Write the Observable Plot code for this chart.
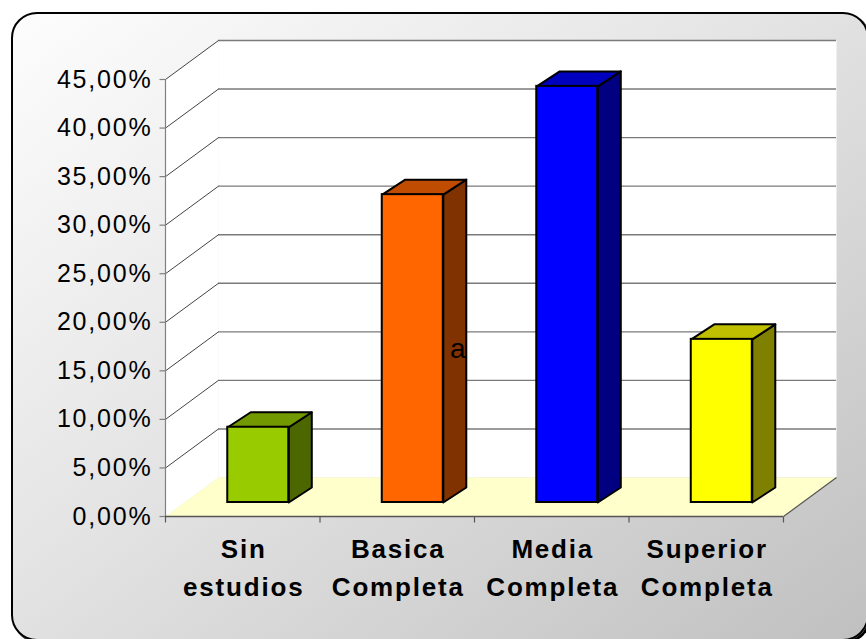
<!DOCTYPE html>
<html>
<head>
<meta charset="utf-8">
<script src="https://cdn.jsdelivr.net/npm/d3@7"></script>
<script src="https://cdn.jsdelivr.net/npm/@observablehq/plot@0.6"></script>
<style>
  html, body { margin: 0; padding: 0; background: #ffffff; }
  #wrap { position: relative; width: 866px; height: 639px; overflow: hidden; background: #ffffff; }
  #frame { position: absolute; left: 11px; top: 12px; width: 858px; height: 629px; box-sizing: border-box;
           border: 2px solid #000; border-radius: 26px;
           background: linear-gradient(to bottom right, #fdfdfd 0%, #e4e4e4 45%, #c0c0c0 100%);
           box-shadow: 2px 2px 0 #000; }
  #chart { position: absolute; left: 0; top: 0; }
  #chart svg text { letter-spacing: 1.8px; }
</style>
</head>
<body>
<div id="wrap"><div id="frame"></div><div id="chart"></div></div>
<script>
// ---- data ----
const categories = ["Sin estudios", "Basica Completa", "Media Completa", "Superior Completa"];
const values = [7.75, 31.7, 42.85, 16.8];
const frontColors = ["#99cc00", "#ff6600", "#0000ff", "#ffff00"];
const topColors = ["#739900", "#bf4c00", "#0000bf", "#bfbf00"];
const sideColors = ["#4c6600", "#803300", "#000080", "#808000"];
const yTicks = [0, 5, 10, 15, 20, 25, 30, 35, 40, 45];
const strayLabel = "a";

// ---- layout ----
const W = 866, H = 639;
const M = {l: 165, r: 83, t: 79, b: 123};
const n = categories.length;
const yMax = d3.max(yTicks);
const ux = (W - M.l - M.r) / n;      // px per category unit
const uy = (H - M.t - M.b) / yMax;   // px per percent
const wdx = 53 / ux, wdy = 39 / uy;  // wall depth
const tdx = 23 / ux, tdy = 15 / uy;  // bar depth
const BDX = 19, BDY = -14;           // bar offset into depth (px)
const B0 = 0.28, B1 = 0.675;         // bar extent inside category

const fmt = d => d.toFixed(2).replace(".", ",") + "%";

const bars = values.map((v, i) => ({i, v, x1: i + B0, x2: i + B1,
  front: frontColors[i], top: topColors[i], side: sideColors[i]}));

const poly = (key, fill, pts) => pts.map(([x, y]) => ({key, fill, x, y}));

const walls = [
  ...poly("left", "#ffffff", [[0, 0], [0, yMax], [wdx, yMax + wdy], [wdx, wdy]]),
  ...poly("back", "#ffffff", [[wdx, wdy], [wdx, yMax + wdy], [n + wdx, yMax + wdy], [n + wdx, wdy]]),
  ...poly("floor", "#ffffcc", [[0, 0], [n, 0], [n + wdx, wdy], [wdx, wdy]])
];

const faces = bars.flatMap(b => [
  ...poly("side" + b.i, b.side, [[b.x2, 0], [b.x2, b.v], [b.x2 + tdx, b.v + tdy], [b.x2 + tdx, tdy]]),
  ...poly("top" + b.i, b.top, [[b.x1, b.v], [b.x2, b.v], [b.x2 + tdx, b.v + tdy], [b.x1 + tdx, b.v + tdy]])
]);

const grid = yTicks.filter(t => t > 0);
const xEdges = d3.range(n + 1);

const chart = Plot.plot({
  width: W, height: H,
  marginLeft: M.l, marginRight: M.r, marginTop: M.t, marginBottom: M.b,
  style: {background: "none", fontFamily: "'Liberation Sans', Arial, sans-serif", fontSize: "25px", color: "#000", overflow: "visible"},
  x: {domain: [0, n], axis: null},
  y: {domain: [0, yMax], ticks: yTicks, tickFormat: fmt, tickSize: 0, tickPadding: 13, label: null},
  color: {type: "identity"},
  marks: [
    Plot.line(walls, {x: "x", y: "y", z: "key", fill: "fill", stroke: "none", curve: "linear-closed"}),
    Plot.ruleY(grid, {y: t => t + wdy, x1: () => wdx, x2: () => n + wdx, stroke: "#7a7a7a", strokeWidth: 1.4}),
    Plot.link(grid, {x1: () => 0, y1: t => t, x2: () => wdx, y2: t => t + wdy, stroke: "#444", strokeWidth: 1}),
    Plot.link([0], {x1: () => n, y1: () => 0, x2: () => n + wdx, y2: () => wdy, stroke: "#555", strokeWidth: 1.2}),
    // axes
    Plot.ruleX([0], {x: () => 0, y1: () => 0, y2: () => yMax, stroke: "#808080", strokeWidth: 1.2}),
    Plot.link(yTicks, {x1: () => -6 / ux, x2: () => 0, y1: t => t, y2: t => t, stroke: "#808080", strokeWidth: 1.2}),
    Plot.ruleY([0], {y: () => 0, x1: () => 0, x2: () => n, stroke: "#555", strokeWidth: 1.4}),
    Plot.link(xEdges, {x1: d => d, x2: d => d, y1: () => 0, y2: () => -6 / uy, stroke: "#555", strokeWidth: 1.2}),
    // bars
    Plot.line(faces, {x: "x", y: "y", z: "key", fill: "fill", stroke: "#000", strokeWidth: 2, strokeLinejoin: "round", curve: "linear-closed", dx: BDX, dy: BDY}),
    Plot.rect(bars, {x1: "x1", x2: "x2", y1: () => 0, y2: "v", fill: "front", stroke: "#000", strokeWidth: 2, dx: BDX, dy: BDY}),
    Plot.text([bars[1]], {x: b => b.x2 + tdx / 2, y: b => b.v / 2, text: () => strayLabel, dx: BDX + 4, dy: BDY, fontSize: 28, textAnchor: "middle", fill: "#000"}),
    // category labels
    Plot.text(categories, {x: (d, i) => i + 0.5, y: () => 0, text: d => d.split(" ")[0], dx: 1, dy: 33, fontSize: 26, fontWeight: "bold", textAnchor: "middle", fill: "#000"}),
    Plot.text(categories, {x: (d, i) => i + 0.5, y: () => 0, text: d => d.split(" ")[1], dx: 1, dy: 71, fontSize: 26, fontWeight: "bold", textAnchor: "middle", fill: "#000"})
  ]
});
document.getElementById("chart").appendChild(chart);
</script>
</body>
</html>
